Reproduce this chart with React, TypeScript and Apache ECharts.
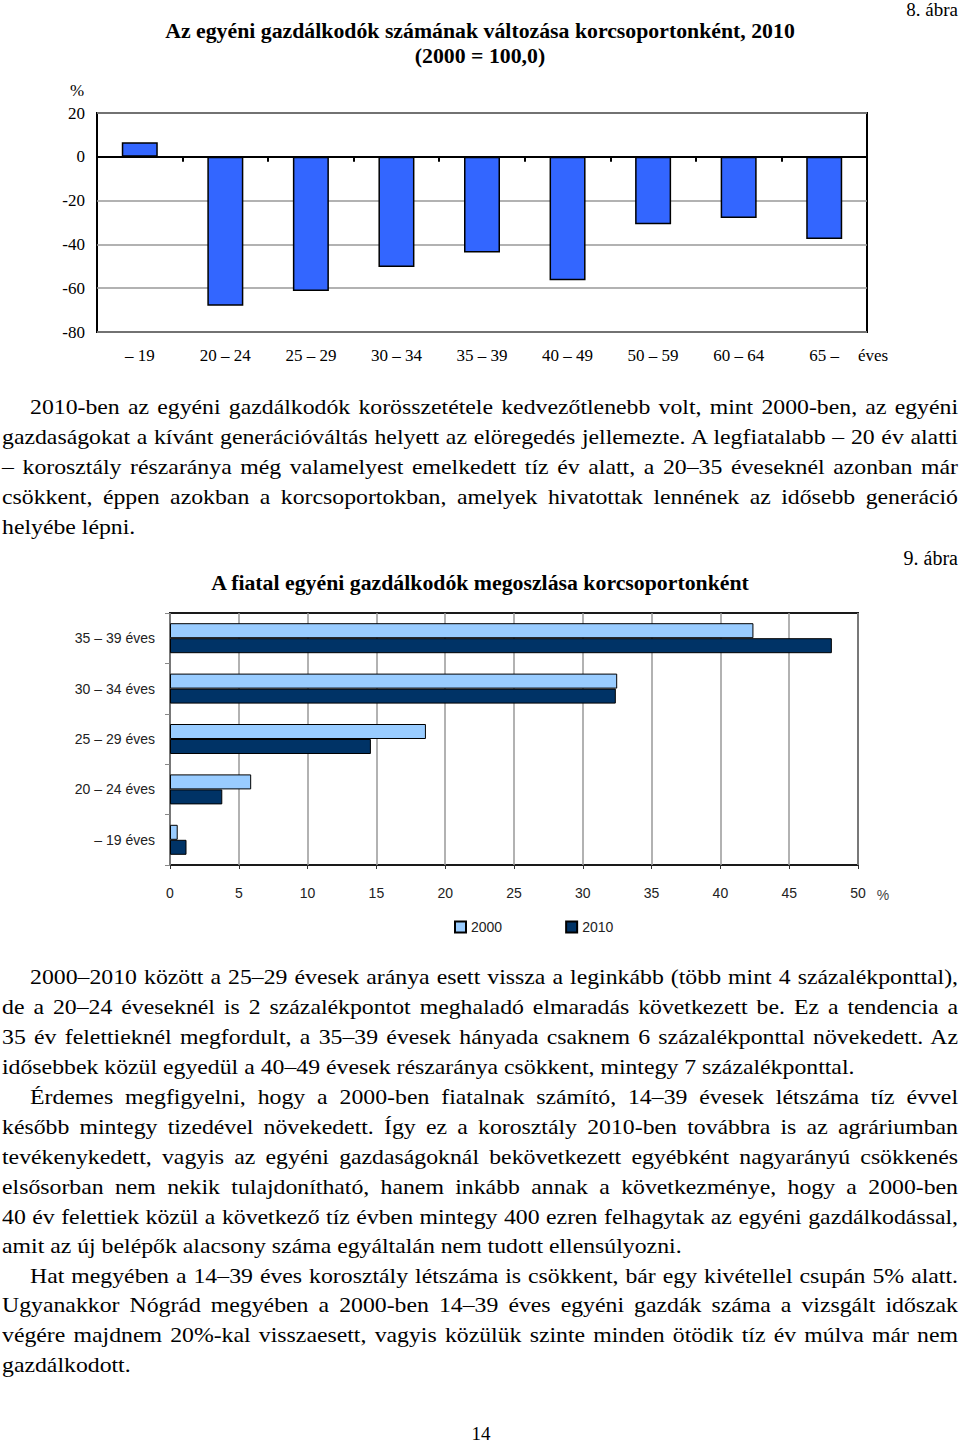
import React, { useEffect, useRef } from "react";
import * as echarts from "echarts";

// ---- Chart 1 data: change of number of individual farmers by age group, 2010 (2000 = 100,0)
const ageGroups1 = ["– 19", "20 – 24", "25 – 29", "30 – 34", "35 – 39", "40 – 49", "50 – 59", "60 – 64", "65 –"];
const change2010 = [6.7, -68, -61.3, -50.3, -43.7, -56.4, -30.8, -28, -37.5];
const changeMin = -80;
const changeMax = 20;
const changeStep = 20;

// ---- Chart 2 data: distribution of young individual farmers by age group (%)
const ageGroups2 = ["– 19 éves", "20 – 24 éves", "25 – 29 éves", "30 – 34 éves", "35 – 39 éves"];
const share2000 = [0.56, 5.9, 18.6, 32.5, 42.4];
const share2010 = [1.2, 3.8, 14.6, 32.4, 48.1];
const shareMin = 0;
const shareMax = 50;
const shareStep = 5;
const years = ["2000", "2010"];

// ---- Page texts
const title1a = "Az egyéni gazdálkodók számának változása korcsoportonként, 2010";
const title1b = "(2000 = 100,0)";
const fig1 = "8. ábra";
const title2 = "A fiatal egyéni gazdálkodók megoszlása korcsoportonként";
const fig2 = "9. ábra";

type Line = { t: string; y: number; indent?: boolean; last?: boolean };
const paragraphLines: Line[] = [
  { t: "2010-ben az egyéni gazdálkodók korösszetétele kedvezőtlenebb volt, mint 2000-ben, az egyéni", y: 408, indent: true },
  { t: "gazdaságokat a kívánt generációváltás helyett az elöregedés jellemezte. A legfiatalabb – 20 év alatti", y: 438 },
  { t: "– korosztály részaránya még valamelyest emelkedett tíz év alatt, a 20–35 éveseknél azonban már", y: 468 },
  { t: "csökkent, éppen azokban a korcsoportokban, amelyek hivatottak lennének az idősebb generáció", y: 498 },
  { t: "helyébe lépni.", y: 528, last: true },
  { t: "2000–2010 között a 25–29 évesek aránya esett vissza a leginkább (több mint 4 százalékponttal),", y: 978, indent: true },
  { t: "de a 20–24 éveseknél is 2 százalékpontot meghaladó elmaradás következett be. Ez a tendencia a", y: 1008 },
  { t: "35 év felettieknél megfordult, a 35–39 évesek hányada csaknem 6 százalékponttal növekedett. Az", y: 1038 },
  { t: "idősebbek közül egyedül a 40–49 évesek részaránya csökkent, mintegy 7 százalékponttal.", y: 1068, last: true },
  { t: "Érdemes megfigyelni, hogy a 2000-ben fiatalnak számító, 14–39 évesek létszáma tíz évvel", y: 1098, indent: true },
  { t: "később mintegy tizedével növekedett. Így ez a korosztály 2010-ben továbbra is az agráriumban", y: 1128 },
  { t: "tevékenykedett, vagyis az egyéni gazdaságoknál bekövetkezett egyébként nagyarányú csökkenés", y: 1158 },
  { t: "elsősorban nem nekik tulajdonítható, hanem inkább annak a következménye, hogy a 2000-ben", y: 1188 },
  { t: "40 év felettiek közül a következő tíz évben mintegy 400 ezren felhagytak az egyéni gazdálkodással,", y: 1218 },
  { t: "amit az új belépők alacsony száma egyáltalán nem tudott ellensúlyozni.", y: 1247, last: true },
  { t: "Hat megyében a 14–39 éves korosztály létszáma is csökkent, bár egy kivétellel csupán 5% alatt.", y: 1277, indent: true },
  { t: "Ugyanakkor Nógrád megyében a 2000-ben 14–39 éves egyéni gazdák száma a vizsgált időszak", y: 1306 },
  { t: "végére majdnem 20%-kal visszaesett, vagyis közülük szinte minden ötödik tíz év múlva már nem", y: 1336 },
  { t: "gazdálkodott.", y: 1366, last: true },
];
const pageNumber = "14";

const SERIF = '"Liberation Serif", "Times New Roman", serif';
const SANS = '"Liberation Sans", Arial, sans-serif';
const TEXT_SCALE = 1.08;

export default function App() {
  const ref = useRef<HTMLDivElement>(null);

  useEffect(() => {
    if (!ref.current) return;
    const chart = echarts.init(ref.current, undefined, { renderer: "svg" });
    const serifText = (text: string, x: number, y: number, align: string, size: number, bold = false, sx = 1) => ({
      type: "text", x, y, scaleX: sx, scaleY: 1, z: 10,
      style: { text, align, verticalAlign: "middle", fontFamily: SERIF, fontWeight: bold ? "bold" : "normal", fontSize: size, fill: "#000" },
    });
    const option: any = {
      animation: false,
      backgroundColor: "transparent",
      grid: [
        { left: 97, top: 113, width: 770, height: 219, show: true, borderColor: "#000", borderWidth: 2, backgroundColor: "transparent" },
        { left: 170, top: 613, width: 688, height: 252, show: true, borderColor: "#1a1a1a", borderWidth: 2, backgroundColor: "transparent" },
      ],
      xAxis: [
        {
          type: "category", gridIndex: 0, data: ageGroups1, position: "bottom",
          axisLine: { show: false, onZero: false }, axisTick: { show: false },
          axisLabel: { margin: 15, fontFamily: SERIF, fontSize: 17, color: "#000" },
          splitLine: { show: false },
        },
        {
          type: "category", gridIndex: 0, data: ageGroups1, position: "bottom",
          axisLine: { show: true, onZero: true, lineStyle: { color: "#000", width: 2 } },
          axisTick: { show: true, length: 5, lineStyle: { color: "#000", width: 2 } },
          axisLabel: { show: false }, splitLine: { show: false },
        },
        {
          type: "value", gridIndex: 1, min: shareMin, max: shareMax, interval: shareStep,
          axisLine: { show: false },
          axisTick: { show: true, length: 4, lineStyle: { color: "#333" } },
          axisLabel: { margin: 21, fontFamily: SANS, fontSize: 14, color: "#222" },
          splitLine: { show: true, lineStyle: { color: "#999", width: 1.5 } },
        },
      ],
      yAxis: [
        {
          type: "value", gridIndex: 0, min: changeMin, max: changeMax, interval: changeStep,
          axisLine: { show: false }, axisTick: { show: false },
          axisLabel: { margin: 12, fontFamily: SERIF, fontSize: 17, color: "#000" },
          splitLine: { show: true, lineStyle: { color: "#999", width: 1.5 } },
        },
        {
          type: "category", gridIndex: 1, data: ageGroups2,
          axisLine: { show: false },
          axisTick: { show: true, length: 5, lineStyle: { color: "#888" } },
          axisLabel: { margin: 15, fontFamily: SANS, fontSize: 14, color: "#222" },
          splitLine: { show: false },
        },
      ],
      legend: {
        data: years, left: 449, top: 915, itemWidth: 11, itemHeight: 11, itemGap: 63, icon: "rect",
        textStyle: { fontFamily: SANS, fontSize: 14, color: "#222" },
      },
      series: [
        {
          type: "bar", name: "Változás", xAxisIndex: 0, yAxisIndex: 0, data: change2010, barWidth: 36,
          itemStyle: { color: "#3366FF", borderColor: "#000", borderWidth: 1.5 },
        },
        {
          type: "bar", name: years[0], xAxisIndex: 2, yAxisIndex: 1, data: share2000, barWidth: 15, barGap: "0%",
          itemStyle: { color: "#99CCFF", borderColor: "#000", borderWidth: 1 },
        },
        {
          type: "bar", name: years[1], xAxisIndex: 2, yAxisIndex: 1, data: share2010, barWidth: 15, barGap: "0%",
          itemStyle: { color: "#003366", borderColor: "#000", borderWidth: 1 },
        },
      ],
      graphic: [
        serifText(fig1, 958, 9, "right", 19),
        serifText(title1a, 480, 31, "center", 20, true, 1.09),
        serifText(title1b, 480, 56, "center", 20, true, 1.09),
        serifText("%", 77, 90, "center", 17),
        serifText("éves", 858, 355, "left", 17),
        serifText(fig2, 958, 558, "right", 20),
        serifText(title2, 480, 583, "center", 20, true, 1.09),
        {
          type: "text", x: 883, y: 895, z: 10,
          style: { text: "%", align: "center", verticalAlign: "middle", fontFamily: SANS, fontSize: 14, fill: "#444" },
        },
        serifText(pageNumber, 481, 1433, "center", 19),
      ],
    };
    chart.setOption(option);
    return () => chart.dispose();
  }, []);

  return (
    <div style={{ position: "absolute", left: 0, top: 0, width: 960, height: 1444, background: "#fff", overflow: "hidden" }}>
      <div ref={ref} style={{ position: "absolute", left: 0, top: 0, width: 960, height: 1444 }} />
      {paragraphLines.map((l, i) => {
        const left = l.indent ? 30 : 2;
        const width = (958 - left) / TEXT_SCALE;
        return (
          <div
            key={i}
            style={{
              position: "absolute",
              left,
              width,
              top: l.y - 16,
              height: 30,
              lineHeight: "30px",
              fontFamily: SERIF,
              fontSize: 22,
              color: "#000",
              whiteSpace: "nowrap",
              textAlign: l.last ? "left" : "justify",
              textAlignLast: l.last ? "left" : "justify",
              transform: `scaleX(${TEXT_SCALE})`,
              transformOrigin: "0 0",
              pointerEvents: "none",
            } as React.CSSProperties}
          >
            {l.t}
          </div>
        );
      })}
    </div>
  );
}
